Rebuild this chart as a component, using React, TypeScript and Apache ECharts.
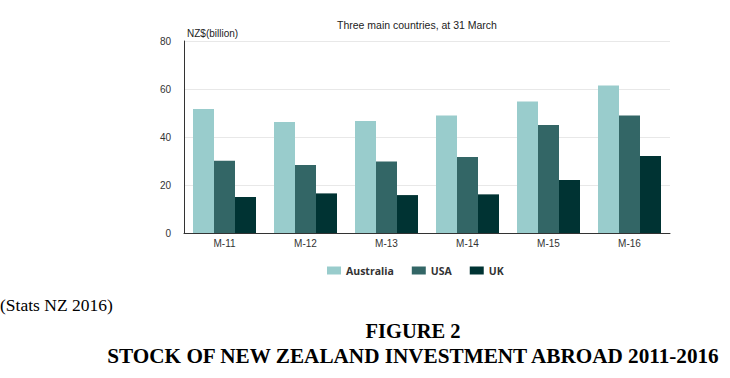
import React, { useEffect, useRef } from "react";
import * as echarts from "echarts";

const categories = ["M-11", "M-12", "M-13", "M-14", "M-15", "M-16"];
const australia = [51.7, 46.3, 46.7, 49.0, 54.8, 61.5];
const usa = [30.1, 28.3, 29.8, 31.7, 45.0, 49.0];
const uk = [15.0, 16.5, 15.8, 16.1, 22.1, 32.1];
const seriesNames = ["Australia", "USA", "UK"];
const colors = ["#99cccc", "#336666", "#003333"];

export default function App() {
  const ref = useRef<HTMLDivElement>(null);
  useEffect(() => {
    if (!ref.current) return;
    const chart = echarts.init(ref.current, null, { renderer: "svg" });
    const data = [australia, usa, uk];
    chart.setOption({
      animation: false,
      backgroundColor: "#ffffff",
      grid: { left: 184, right: 60, top: 41, bottom: 145, containLabel: false },
      legend: {
        data: seriesNames,
        left: 327,
        top: 265,
        padding: 0,
        itemWidth: 14,
        itemHeight: 8,
        itemGap: 18,
        icon: "rect",
        textStyle: {
          fontFamily: "Open Sans, Liberation Sans, sans-serif",
          fontWeight: "bold",
          fontSize: 10.5,
          color: "#333333",
        },
      },
      xAxis: {
        type: "category",
        data: categories,
        axisLine: { lineStyle: { color: "#333333", width: 1 } },
        axisTick: { alignWithLabel: true, length: 5, lineStyle: { color: "#666666" } },
        axisLabel: {
          fontFamily: "Liberation Sans, Arial, sans-serif",
          fontSize: 10,
          color: "#333333",
          margin: 5,
        },
      },
      yAxis: {
        type: "value",
        min: 0,
        max: 80,
        interval: 20,
        axisLine: { show: true, lineStyle: { color: "#333333", width: 1 } },
        axisTick: { show: false },
        splitLine: { lineStyle: { color: "#e8e8e8", width: 1 } },
        axisLabel: {
          fontFamily: "Liberation Sans, Arial, sans-serif",
          fontSize: 10,
          color: "#333333",
          margin: 13,
        },
      },
      series: seriesNames.map((name, i) => ({
        name,
        type: "bar",
        data: data[i],
        barWidth: 21,
        barGap: "0%",
        itemStyle: { color: colors[i] },
      })),
      graphic: [
        {
          type: "text",
          left: 337,
          top: 19,
          style: {
            text: "Three main countries, at 31 March",
            fontFamily: "Liberation Sans, Arial, sans-serif",
            fontSize: 10.5,
            fill: "#222222",
          },
        },
        {
          type: "text",
          left: 187,
          top: 28,
          style: {
            text: "NZ$(billion)",
            fontFamily: "Liberation Sans, Arial, sans-serif",
            fontSize: 10,
            fill: "#222222",
          },
        },
        {
          type: "text",
          left: 0,
          top: 296,
          style: {
            text: "(Stats NZ 2016)",
            fontFamily: "Liberation Serif, Times New Roman, serif",
            fontSize: 17.5,
            fill: "#000000",
          },
        },
        {
          type: "text",
          x: 413,
          y: 320,
          style: {
            text: "FIGURE 2",
            fontFamily: "Liberation Serif, Times New Roman, serif",
            fontWeight: "bold",
            fontSize: 20.5,
            fill: "#000000",
            align: "center",
            verticalAlign: "top",
          },
        },
        {
          type: "text",
          x: 413,
          y: 345,
          style: {
            text: "STOCK OF NEW ZEALAND INVESTMENT ABROAD 2011-2016",
            fontFamily: "Liberation Serif, Times New Roman, serif",
            fontWeight: "bold",
            fontSize: 21.2,
            fill: "#000000",
            align: "center",
            verticalAlign: "top",
          },
        },
      ],
    });
    return () => chart.dispose();
  }, []);
  return (
    <div
      ref={ref}
      style={{ position: "fixed", left: 0, top: 0, width: 730, height: 378 }}
    />
  );
}
